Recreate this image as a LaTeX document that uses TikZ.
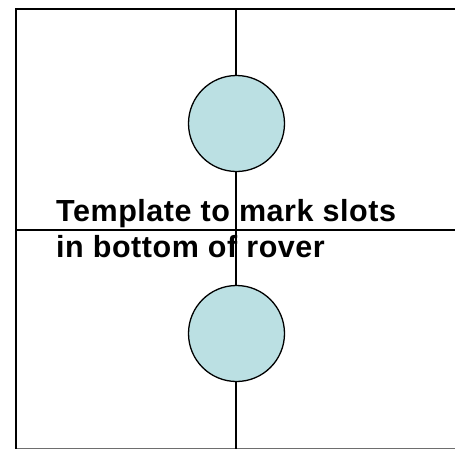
\documentclass[tikz,border=0pt]{standalone}
\usepackage{fontspec}
\setmainfont{Liberation Sans}
\definecolor{slotfill}{RGB}{187,224,227}
\definecolor{edgegray}{RGB}{110,110,110}
\begin{document}
\begin{tikzpicture}[x=1pt,y=-1pt,
  frame/.style={line width=2pt,draw=black},
  guide/.style={line width=1.4pt,draw=black},
  slot/.style={circle,draw=black,line width=1.3pt,fill=slotfill,minimum size=96pt,inner sep=0pt},
  label/.style={font=\fontsize{30.5}{36}\selectfont\bfseries\addfontfeature{LetterSpace=1.8},align=left,inner sep=0pt,anchor=base west}]
\useasboundingbox (0,0) rectangle (455,450);
\coordinate (tl) at (16,8.5);
\coordinate (tr) at (456,8.5);
\coordinate (bl) at (16,448.5);
\coordinate (br) at (456,448.5);
\coordinate (vt) at (236,8.5);
\coordinate (vb) at (236,448.5);
\coordinate (hl) at (16,230);
\coordinate (hr) at (456,230);
\draw[guide] (hl) -- (hr);
\draw[line width=1.5pt,draw=edgegray] (bl) -- (br);
\draw[frame] (tr) -- (tl) -- (bl);
\node[label] (t1) at (56,221.5) {Template to mark slots};
\node[label] (t2) at (56,257.5) {in bottom of rover};
\draw[guide] (vt) -- (vb);
\node[slot] (c1) at (236.5,123.5) {};
\node[slot] (c2) at (236.5,333.5) {};
\end{tikzpicture}
\end{document}
